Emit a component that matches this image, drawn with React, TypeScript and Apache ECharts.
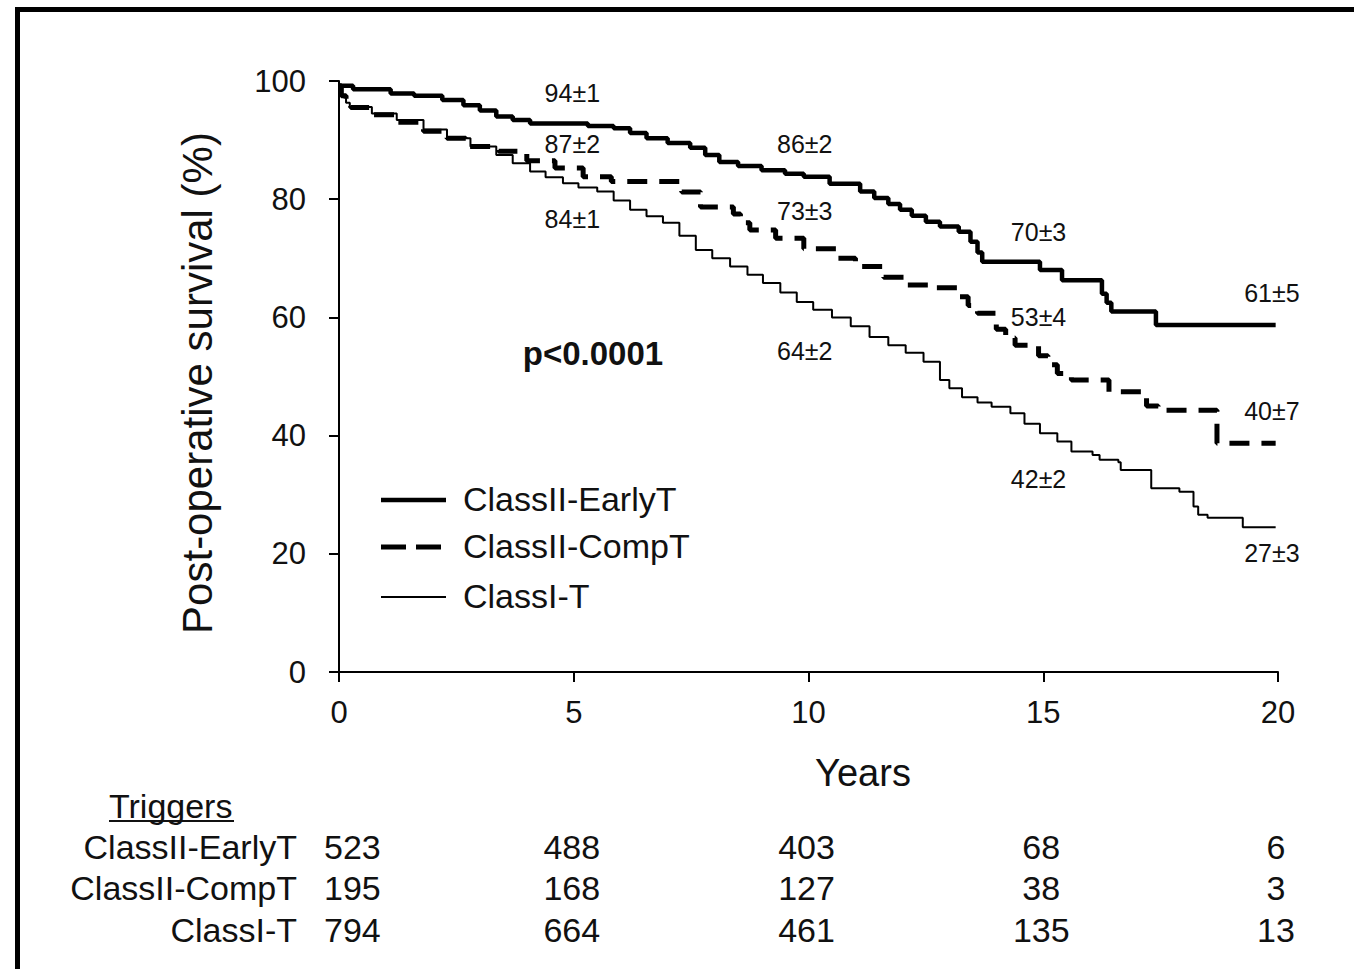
import React, { useEffect, useRef } from "react";
import * as echarts from "echarts";

// ---------- data ----------
const years = [0, 5, 10, 15, 20];
const seriesNames = ["ClassII-EarlyT", "ClassII-CompT", "ClassI-T"];

// Kaplan-Meier steps: [years, survival %]
const earlyT: number[][] = [
  [0, 99.2], [0.3, 98.6], [1.1, 97.9], [1.6, 97.5], [2.2, 96.8], [2.65, 95.9], [3.0, 95.0],
  [3.35, 94.0], [3.7, 93.4], [4.07, 92.8], [5.3, 92.4], [5.85, 92.0], [6.2, 91.2], [6.55, 90.3],
  [7.0, 89.5], [7.48, 88.7], [7.8, 87.5], [8.1, 86.3], [8.5, 85.6], [9.0, 84.9], [9.5, 84.3],
  [9.9, 83.8], [10.45, 82.6], [11.1, 81.3], [11.4, 80.2], [11.7, 79.2], [11.95, 78.2], [12.2, 77.2],
  [12.5, 76.2], [12.8, 75.4], [13.2, 74.5], [13.45, 72.8], [13.6, 71.0], [13.7, 69.4], [14.93, 68.0],
  [15.4, 66.3], [16.25, 64.0], [16.35, 62.5], [16.45, 61.0], [17.4, 58.7], [19.95, 58.7],
];
const compT: number[][] = [
  [0, 99.2], [0.05, 97.5], [0.15, 96.3], [0.25, 95.5], [0.7, 94.3], [1.2, 93.0], [1.8, 91.5],
  [2.3, 90.3], [2.7, 88.9], [3.4, 88.1], [4.0, 86.5], [4.6, 85.3], [5.2, 83.8], [5.8, 83.0],
  [7.3, 81.2], [7.7, 78.7], [8.4, 77.5], [8.55, 76.0], [8.75, 74.8], [9.3, 73.4], [9.9, 71.6],
  [10.6, 70.0], [11.0, 68.6], [11.6, 66.8], [12.1, 65.5], [12.6, 65.0], [13.2, 63.5], [13.4, 62.0],
  [13.6, 60.7], [14.0, 58.0], [14.2, 56.5], [14.4, 55.3], [14.9, 53.5], [15.1, 52.0], [15.3, 50.5],
  [15.6, 49.4], [16.4, 47.4], [17.2, 45.0], [17.45, 44.3], [18.7, 38.7], [19.95, 38.7],
];
const classIT: number[][] = [
  [0, 99.2], [0.05, 97.5], [0.15, 96.3], [0.23, 95.6], [0.7, 94.5], [1.23, 93.4], [1.8, 91.8],
  [2.3, 90.3], [2.8, 88.9], [3.35, 87.5], [3.7, 86.1], [4.07, 84.7], [4.4, 83.7], [4.77, 82.7],
  [5.1, 82.0], [5.5, 81.3], [5.85, 79.8], [6.2, 78.2], [6.55, 77.1], [6.9, 76.0], [7.25, 73.8],
  [7.6, 71.4], [7.95, 70.0], [8.33, 68.6], [8.7, 67.2], [9.03, 65.8], [9.4, 64.2], [9.75, 62.6],
  [10.1, 61.3], [10.5, 60.0], [10.9, 58.5], [11.3, 56.7], [11.7, 55.3], [12.07, 54.0], [12.45, 52.5],
  [12.8, 49.4], [13.0, 48.0], [13.27, 46.5], [13.6, 45.6], [13.9, 44.9], [14.3, 43.8], [14.6, 42.0],
  [14.93, 40.4], [15.3, 39.0], [15.6, 37.3], [16.05, 36.7], [16.2, 35.9], [16.6, 35.5], [16.65, 34.2],
  [17.3, 31.1], [17.9, 30.5], [18.2, 28.0], [18.3, 26.6], [18.5, 26.1], [19.25, 24.5], [19.95, 24.5],
];

// numbers at risk
const atRiskEarlyT = [523, 488, 403, 68, 6];
const atRiskCompT = [195, 168, 127, 38, 3];
const atRiskClassIT = [794, 664, 461, 135, 13];

// survival estimates printed on the plot
const annotEarlyT = ["94±1", "86±2", "70±3", "61±5"];
const annotCompT = ["87±2", "73±3", "53±4", "40±7"];
const annotClassIT = ["84±1", "64±2", "42±2", "27±3"];

// ---------- layout (positions only) ----------
const annotX = [4.97, 9.92, 14.9, 19.87];
const annotYEarlyT = [98.0, 89.4, 74.5, 64.1];
const annotYCompT = [89.4, 78.0, 60.1, 44.1];
const annotYClassIT = [76.6, 54.3, 32.7, 20.1];

const FONT = '"Liberation Sans", Arial, Helvetica, sans-serif';
const TXT = "#111111";

export default function App() {
  const ref = useRef<HTMLDivElement>(null);

  useEffect(() => {
    document.body.style.margin = "0";
    const el = ref.current!;
    const chart = echarts.init(el, null, { renderer: "svg" });

    chart.setOption({
      animation: false,
      backgroundColor: "#ffffff",
      grid: { left: 339, top: 81, width: 939, height: 591, containLabel: false },
      xAxis: {
        type: "value",
        min: 0,
        max: 20,
        interval: 5,
        splitLine: { show: false },
        axisLine: { show: true, lineStyle: { color: "#000", width: 2 } },
        axisTick: { show: true, length: 10, lineStyle: { color: "#000", width: 2 } },
        axisLabel: { color: TXT, fontSize: 31, fontFamily: FONT, margin: 25 },
      },
      yAxis: {
        type: "value",
        min: 0,
        max: 100,
        interval: 20,
        splitLine: { show: false },
        axisLine: { show: true, lineStyle: { color: "#000", width: 2 } },
        axisTick: { show: true, length: 10, lineStyle: { color: "#000", width: 2 } },
        axisLabel: { color: TXT, fontSize: 31, fontFamily: FONT, margin: 33 },
      },
      series: [
        {
          name: seriesNames[2],
          type: "line",
          step: "end",
          data: classIT,
          showSymbol: false,
          symbol: "none",
          lineStyle: { color: "#000", width: 2 },
          z: 3,
        },
        {
          name: seriesNames[1],
          type: "line",
          step: "end",
          data: compT,
          showSymbol: false,
          symbol: "none",
          lineStyle: { color: "#000", width: 5, type: [20, 12] },
          z: 4,
        },
        {
          name: seriesNames[0],
          type: "line",
          step: "end",
          data: earlyT,
          showSymbol: false,
          symbol: "none",
          lineStyle: { color: "#000", width: 4.5 },
          z: 5,
        },
      ],
    });

    const toPx = (t: number, v: number) =>
      chart.convertToPixel({ gridIndex: 0 }, [t, v]) as number[];

    const g: any[] = [];
    // frame
    g.push({
      type: "rect",
      shape: { x: 17.5, y: 9.5, width: 1400, height: 1000 },
      style: { fill: "none", stroke: "#000", lineWidth: 5 },
      z: 100,
    });
    // survival estimates
    [annotEarlyT, annotCompT, annotClassIT].forEach((arr, si) => {
      const ys = [annotYEarlyT, annotYCompT, annotYClassIT][si];
      arr.forEach((txt, i) => {
        const [x, y] = toPx(annotX[i], ys[i]);
        g.push({
          type: "text",
          x,
          y,
          style: { text: txt, font: `25px ${FONT}`, fill: TXT, align: "center", verticalAlign: "middle" },
          z: 10,
        });
      });
    });
    // y axis title
    g.push({
      type: "text",
      x: 197,
      y: 383,
      rotation: Math.PI / 2,
      style: {
        text: "Post-operative survival (%)",
        font: `42px ${FONT}`,
        fill: TXT,
        align: "center",
        verticalAlign: "middle",
      },
    });
    // x axis title
    g.push({
      type: "text",
      x: 863,
      y: 773,
      style: { text: "Years", font: `38px ${FONT}`, fill: TXT, align: "center", verticalAlign: "middle" },
    });
    // p value
    g.push({
      type: "text",
      x: 593,
      y: 353,
      style: { text: "p<0.0001", font: `bold 33px ${FONT}`, fill: TXT, align: "center", verticalAlign: "middle" },
    });
    // legend
    const legY = [499, 546, 596];
    const legStyles = [
      { lineWidth: 4.5 },
      { lineWidth: 5, lineDash: [25, 10] },
      { lineWidth: 2 },
    ];
    seriesNames.forEach((n, i) => {
      g.push({
        type: "line",
        shape: { x1: 381, y1: legY[i] + 1, x2: 446, y2: legY[i] + 1 },
        style: { stroke: "#000", ...legStyles[i] },
      });
      g.push({
        type: "text",
        x: 463,
        y: legY[i],
        style: { text: n, font: `34px ${FONT}`, fill: TXT, align: "left", verticalAlign: "middle" },
      });
    });
    // numbers at risk table
    g.push({
      type: "text",
      x: 109,
      y: 806,
      style: { text: "Triggers", font: `34px ${FONT}`, fill: TXT, align: "left", verticalAlign: "middle" },
    });
    g.push({
      type: "line",
      shape: { x1: 109, y1: 821, x2: 234, y2: 821 },
      style: { stroke: TXT, lineWidth: 2 },
    });
    const rowY = [847, 888, 930];
    [atRiskEarlyT, atRiskCompT, atRiskClassIT].forEach((row, ri) => {
      g.push({
        type: "text",
        x: 297,
        y: rowY[ri],
        style: { text: seriesNames[ri], font: `34px ${FONT}`, fill: TXT, align: "right", verticalAlign: "middle" },
      });
      row.forEach((v, ci) => {
        const first = ci === 0;
        g.push({
          type: "text",
          x: first ? 324 : toPx(years[ci], 0)[0] - 2,
          y: rowY[ri],
          style: {
            text: String(v),
            font: `34px ${FONT}`,
            fill: TXT,
            align: first ? "left" : "center",
            verticalAlign: "middle",
          },
        });
      });
    });

    chart.setOption({ graphic: g });

    return () => {
      chart.dispose();
    };
  }, []);

  return <div ref={ref} style={{ width: 1354, height: 969 }} />;
}
